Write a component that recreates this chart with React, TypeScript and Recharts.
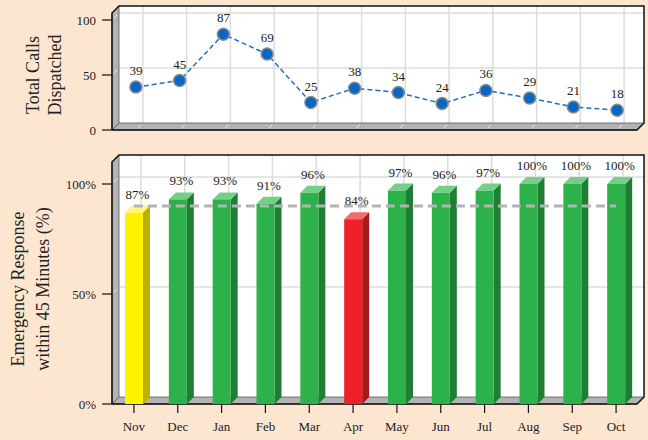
import { Bar, ComposedChart, Customized, LabelList, Line, XAxis, YAxis } from "recharts";

const MONTHS = ["Nov", "Dec", "Jan", "Feb", "Mar", "Apr", "May", "Jun", "Jul", "Aug", "Sep", "Oct"];
const CALLS = [39, 45, 87, 69, 25, 38, 34, 24, 36, 29, 21, 18];
const RESPONSE = [87, 93, 93, 91, 96, 84, 97, 96, 97, 100, 100, 100];
const TARGET = [90, 90, 90, 90, 90, 90, 90, 90, 90, 90, 90, 90];
const CALL_TICKS = [0, 50, 100];
const RESPONSE_TICKS = [0, 50, 100];

const FONT = '"Liberation Serif", "Times New Roman", serif';
const BG = "#fde6d0";
const W = 648;
const DEPTH = 7;

const callsData = MONTHS.map((month, i) => ({ month, calls: CALLS[i] }));
const responseData = MONTHS.map((month, i) => ({
  month,
  response: RESPONSE[i],
  target: TARGET[i],
}));

// face colours for the 3d bars: [front, side, top]
const GREEN = ["#2db24b", "#1f7d34", "#76cf87"];
const YELLOW = ["#fff200", "#bdb000", "#fff67e"];
const RED = ["#ee2129", "#a9191f", "#f36a6f"];

const barColors = (v: number) => (v < 85 ? RED : v < 90 ? YELLOW : GREEN);

type FrameProps = {
  left: number;
  right: number;
  top: number;
  floor: number;
  rows: number[];
  cols: number[];
};

function Frame3D({ left, right, top, floor, rows, cols }: FrameProps) {
  const d = DEPTH;
  return (
    <g>
      <rect x={left + d} y={top - d} width={right - left} height={floor - top} fill="#fff" />
      {rows.map((y) => (
        <line key={"r" + y} x1={left + d} x2={right + d} y1={y - d} y2={y - d} stroke="#dcdcdc" strokeWidth={1.5} />
      ))}
      {cols.map((x) => (
        <line key={"c" + x} x1={x + d} x2={x + d} y1={top - d} y2={floor - d} stroke="#dcdcdc" strokeWidth={1.5} />
      ))}
      <polygon
        points={`${left},${top} ${left + d},${top - d} ${left + d},${floor - d} ${left},${floor}`}
        fill="#b3b3b3"
        stroke="#555"
        strokeWidth={0.8}
      />
      <polygon
        points={`${left},${floor} ${left + d},${floor - d} ${right + d},${floor - d} ${right},${floor}`}
        fill="#b3b3b3"
        stroke="#555"
        strokeWidth={0.8}
      />
      {rows.map((y) => (
        <line key={"wr" + y} x1={left + 2} x2={left + 5} y1={y - 2} y2={y - 5} stroke="#eee" strokeWidth={1} />
      ))}
      {cols.map((x) => (
        <line key={"fc" + x} x1={x + 2} x2={x + 5} y1={floor - 2} y2={floor - 5} stroke="#eee" strokeWidth={1} />
      ))}
      <polyline
        points={`${left},${floor} ${left},${top} ${left + d},${top - d} ${right + d},${top - d} ${right + d},${floor - d} ${right},${floor} ${left},${floor}`}
        fill="none"
        stroke="#111"
        strokeWidth={1.5}
      />
    </g>
  );
}

function AxisTitle({ lines, cy, xs }: { lines: string[]; cy: number; xs: number[] }) {
  return (
    <g>
      {lines.map((t, i) => (
        <text
          key={t}
          x={xs[i]}
          y={cy}
          transform={`rotate(-90 ${xs[i]} ${cy})`}
          textAnchor="middle"
          fontFamily={FONT}
          fontSize={18}
          fill="#222"
        >
          {t}
        </text>
      ))}
    </g>
  );
}

function Bar3D(props: any) {
  const { x, y, width, height, payload } = props;
  if (height == null || height <= 0) return null;
  const d = DEPTH;
  const [front, side, topc] = barColors(payload.response);
  return (
    <g>
      <polygon
        points={`${x + width},${y} ${x + width + d},${y - d} ${x + width + d},${y + height - d} ${x + width},${y + height}`}
        fill={side}
      />
      <polygon points={`${x},${y} ${x + d},${y - d} ${x + width + d},${y - d} ${x + width},${y}`} fill={topc} />
      <rect x={x} y={y} width={width} height={height} fill={front} />
      <text
        x={x + (width + d) / 2}
        y={y - 14}
        textAnchor="middle"
        fontFamily={FONT}
        fontSize={13}
        fill="#222"
      >
        {payload.response}%
      </text>
    </g>
  );
}

// top panel layout
const T_H = 140;
const T_TOP = 20;
const T_BOTTOM = 10;
const T_LEFT = 112;
const T_RIGHT = 640;
const T_PAD = { left: 2, right: 1 };

// bottom panel layout
const B_H = 300;
const B_TOP = 44;
const B_BOTTOM = 36;
const B_LEFT = 112;
const B_RIGHT = 638;

const centers = (l: number, r: number) => {
  const step = (r - l) / MONTHS.length;
  return MONTHS.map((_, i) => l + step * (i + 0.5));
};
const rowsFor = (ticks: number[], top: number, floor: number, max: number) =>
  ticks.filter((t) => t > 0).map((t) => floor - ((floor - top) * t) / max);

export default function App() {
  const tFloor = T_H - T_BOTTOM;
  const bFloor = B_H - B_BOTTOM;
  const tickStyle = { fontFamily: FONT, fontSize: 13, fill: "#222" };
  return (
    <div style={{ position: "fixed", left: 0, top: 0, width: W, height: 440, background: BG }}>
      <div style={{ position: "absolute", left: 0, top: 0 }}>
        <ComposedChart width={W} height={T_H} data={callsData} margin={{ top: T_TOP, right: W - T_RIGHT, bottom: T_BOTTOM, left: 0 }}>
          <Customized
            component={
              <Frame3D
                left={T_LEFT}
                right={637}
                top={13}
                floor={tFloor}
                rows={rowsFor(CALL_TICKS, T_TOP, tFloor, 100)}
                cols={centers(T_LEFT + T_PAD.left, T_RIGHT - T_PAD.right)}
              />
            }
          />
          <Customized component={<AxisTitle lines={["Total Calls", "Dispatched"]} cy={75} xs={[39, 61]} />} />
          <XAxis dataKey="month" hide scale="band" padding={T_PAD} />
          <YAxis
            width={112}
            domain={[0, 100]}
            ticks={CALL_TICKS}
            tickSize={10}
            tickMargin={6}
            axisLine={false}
            tickLine={{ stroke: "#111", strokeWidth: 1.2 }}
            tick={tickStyle}
          />
          <Line
            dataKey="calls"
            stroke="#1f6fc0"
            strokeWidth={1.5}
            strokeDasharray="5 3"
            dot={{ r: 6, fill: "#0867c3", stroke: "#8c8c8c", strokeWidth: 1.5, strokeDasharray: "0" }}
            isAnimationActive={false}
          >
            <LabelList dataKey="calls" position="top" offset={12} style={tickStyle} />
          </Line>
        </ComposedChart>
      </div>
      <div style={{ position: "absolute", left: 0, top: 140 }}>
        <ComposedChart width={W} height={B_H} data={responseData} margin={{ top: B_TOP, right: W - B_RIGHT, bottom: 0, left: 0 }}>
          <Customized
            component={
              <Frame3D
                left={B_LEFT}
                right={637}
                top={22}
                floor={bFloor}
                rows={rowsFor(RESPONSE_TICKS, B_TOP, bFloor, 100)}
                cols={centers(B_LEFT, B_RIGHT)}
              />
            }
          />
          <Customized
            component={<AxisTitle lines={["Emergency Response", "within 45 Minutes (%)"]} cy={149} xs={[24, 49]} />}
          />
          <XAxis
            dataKey="month"
            height={B_BOTTOM}
            tickSize={9}
            tickMargin={9}
            axisLine={false}
            tickLine={{ stroke: "#111", strokeWidth: 1.2 }}
            tick={tickStyle}
          />
          <YAxis
            width={112}
            domain={[0, 100]}
            ticks={RESPONSE_TICKS}
            tickFormatter={(v) => `${v}%`}
            tickSize={10}
            tickMargin={6}
            axisLine={false}
            tickLine={{ stroke: "#111", strokeWidth: 1.2 }}
            tick={tickStyle}
          />
          <Bar dataKey="response" barSize={18} shape={Bar3D} isAnimationActive={false} />
          <Line
            dataKey="target"
            stroke="#b3b3b3"
            strokeWidth={3}
            strokeDasharray="9 5"
            dot={false}
            activeDot={false}
            isAnimationActive={false}
          />
        </ComposedChart>
      </div>
    </div>
  );
}
